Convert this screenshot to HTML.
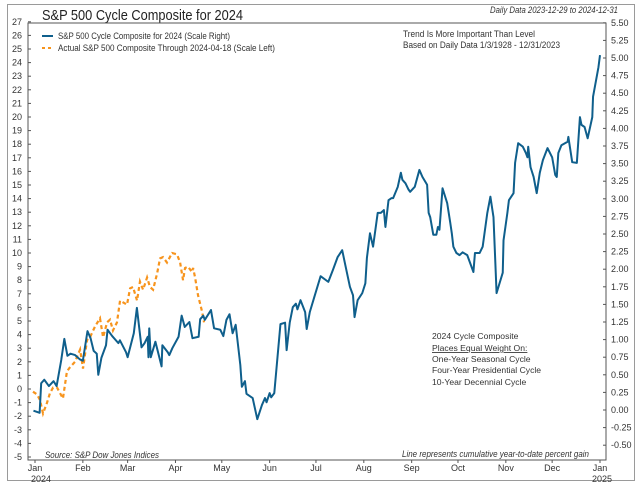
<!DOCTYPE html>
<html><head><meta charset="utf-8"><style>
body{margin:0;background:#fff;width:640px;height:489px;overflow:hidden;font-family:"Liberation Sans",sans-serif}
svg text{font-family:"Liberation Sans",sans-serif}
</style></head><body>
<svg id="chart" width="640" height="489" viewBox="0 0 640 489" xmlns="http://www.w3.org/2000/svg">
<rect x="7.5" y="4.5" width="627" height="476" fill="#fff" stroke="#9a9a9a" stroke-width="1"/>
<text x="42" y="20" font-size="15" fill="#222" textLength="201" lengthAdjust="spacingAndGlyphs">S&amp;P 500 Cycle Composite for 2024</text>
<text x="490" y="13" font-size="9" font-style="italic" fill="#333" textLength="128" lengthAdjust="spacingAndGlyphs">Daily Data 2023-12-29 to 2024-12-31</text>
<rect x="28" y="23" width="578" height="437" fill="none" stroke="#555" stroke-width="1"/>
<g>
<line x1="42" y1="36" x2="53" y2="36" stroke="#0f5f8c" stroke-width="2"/>
<text x="58" y="39" font-size="9" fill="#333" textLength="172" lengthAdjust="spacingAndGlyphs">S&amp;P 500 Cycle Composite for 2024 (Scale Right)</text>
<line x1="42" y1="48" x2="53" y2="48" stroke="#f7941d" stroke-width="2" stroke-dasharray="3,3"/>
<text x="58" y="51" font-size="9" fill="#333" textLength="217" lengthAdjust="spacingAndGlyphs">Actual S&amp;P 500 Composite Through 2024-04-18 (Scale Left)</text>
</g>
<text x="403" y="37" font-size="9" fill="#333" textLength="132" lengthAdjust="spacingAndGlyphs">Trend Is More Important Than Level</text>
<text x="403" y="48" font-size="9" fill="#333" textLength="157" lengthAdjust="spacingAndGlyphs">Based on Daily Data 1/3/1928 - 12/31/2023</text>
<g font-size="8.6" fill="#333">
<text x="432" y="339">2024 Cycle Composite</text>
<text x="432" y="351" text-decoration="underline">Places Equal Weight On:</text>
<text x="432" y="362">One-Year Seasonal Cycle</text>
<text x="432" y="373">Four-Year Presidential Cycle</text>
<text x="432" y="385">10-Year Decennial Cycle</text>
</g>
<text x="45" y="458" font-size="9" font-style="italic" fill="#333" textLength="114" lengthAdjust="spacingAndGlyphs">Source:   S&amp;P Dow Jones Indices</text>
<text x="402" y="457" font-size="9" font-style="italic" fill="#333" textLength="187" lengthAdjust="spacingAndGlyphs">Line represents cumulative year-to-date percent gain</text>
<g id="axes"></g>
<g id="series"></g>
</svg>
<script>
const blueDays=[-1,3,4,6,9,12,14,17,19,21,23,26,29,31,34,36,38,40,41,43,46,47,50,54,55,59,60,64,66,69,71,73,73.5,74,75,78,82,82.5,86,87,89,93,95,97,100,102,106,107,109,110,114,116,120,122,124,126,128,130,133,134,136,137,141,144,147,149,150,152,153,155,159,162,163,165,167,169,170,172,175,176,178,181,185,190,193,196,199,201,204,206,207,209,212,214,215,217,219,222,224,226,227,229,231,232,235,237,238,240,242,243,246,249,251,254,255,256,258,260,261,262,264,267,269,270,271,273,275,277,280,284,285,288,290,293,295,297,299,303,303.5,306,307,310,311,313,316,318,319,319.5,321,323,325,327,329,332,335,337,338,339,341,345,345.5,348,351,353,354,356,358,361,361.5,365,366];
const blueValues=[-0.01,-0.04,0.38,0.43,0.34,0.41,0.34,0.71,1.01,0.77,0.80,0.78,0.72,0.70,1.12,1.02,0.84,0.80,0.50,0.74,0.92,1.14,1.05,0.95,0.99,0.82,0.75,1.09,1.45,0.89,0.95,1.04,0.75,1.16,0.75,0.97,0.62,0.92,0.82,0.78,0.88,1.04,1.34,1.18,1.25,1.02,1.04,1.29,1.34,1.28,1.42,1.16,1.14,1.05,1.28,1.36,1.09,1.21,0.64,0.33,0.41,0.23,0.17,-0.13,0.07,0.17,0.11,0.24,0.18,0.24,1.22,1.24,0.85,1.24,1.46,1.51,1.43,1.56,1.39,1.15,1.39,1.61,1.90,1.82,1.99,2.17,2.27,2.06,1.75,1.63,1.32,1.56,1.66,1.80,2.16,2.51,2.32,2.80,2.80,2.84,2.60,2.98,3.01,3.01,3.17,3.37,3.27,3.22,3.13,3.10,3.17,3.41,3.31,3.20,2.80,2.74,2.49,2.49,2.60,2.56,3.15,2.94,2.66,2.51,2.32,2.23,2.20,2.24,2.20,1.96,2.23,2.23,2.32,2.80,3.03,2.74,1.66,1.95,2.41,2.80,2.98,3.08,3.51,3.79,3.74,3.65,3.59,3.74,3.45,3.31,3.08,3.37,3.55,3.72,3.59,3.34,3.31,3.65,3.76,3.81,3.88,3.52,3.51,4.16,4.05,4.02,3.86,4.16,4.45,4.87,5.04];
const orangeDays=[-1.3,1.3,3.2,5.2,7.8,9.7,11.7,14.3,16.2,18.1,20.7,22.7,25.9,29.2,31.1,33.7,35.6,38.9,42.1,44.1,46.7,48.6,50.5,53.1,55.1,59.6,61.6,63.5,66.1,68.0,70.0,72.6,74.5,76.5,79.1,81.0,82.9,85.5,88.8,92.0,94.0,95.9,97.2,99.1,101.7,102.4,103.7,105.6,108.2,109.5];
const orangeValues=[-0.2,-0.4,-0.8,-1.8,-1.0,-0.3,0.1,0.1,-0.3,-0.7,1.3,1.6,2.0,2.9,1.5,3.6,3.8,4.6,5.2,3.8,4.9,5.1,4.3,4.9,6.5,6.2,7.4,7.5,6.5,7.9,7.3,8.2,7.5,7.3,8.5,9.6,9.7,9.3,10.0,9.9,9.3,8.0,8.9,9.0,8.6,8.9,8.2,6.9,5.7,4.9];
const leftTicks=[27,26,25,24,23,22,21,20,19,18,17,16,15,14,13,12,11,10,9,8,7,6,5,4,3,2,1,0,-1,-2,-3,-4,-5];
const rightTicks=[5.5,5.25,5,4.75,4.5,4.25,4,3.75,3.5,3.25,3,2.75,2.5,2.25,2,1.75,1.5,1.25,1,0.75,0.5,0.25,0,-0.25,-0.5];
const monthLabels=["Jan","Feb","Mar","Apr","May","Jun","Jul","Aug","Sep","Oct","Nov","Dec","Jan"];
const monthDays=[0,31,60,91,121,152,182,213,244,274,305,335,366];

const NS="http://www.w3.org/2000/svg";
const xS=d=>35+d*565/366;
const yL=v=>389-v*13.6;
const yR=v=>410-v*70.4;
function mk(tag,attrs,parent){const e=document.createElementNS(NS,tag);for(const k in attrs)e.setAttribute(k,attrs[k]);parent.appendChild(e);return e;}
const axes=document.getElementById('axes'),series=document.getElementById('series');
leftTicks.forEach(v=>{
  const t=mk('text',{x:22,y:yL(v)+3,'font-size':9,fill:'#333','text-anchor':'end'},axes);
  t.textContent=v;
  
  
  mk('line',{x1:28,x2:31,y1:yL(v),y2:yL(v),stroke:'#555'},axes);
});
rightTicks.forEach(v=>{
  const t=mk('text',{x:611,y:yR(v)+3,'font-size':9,fill:'#333'},axes);
  t.textContent=v.toFixed(2);
  
  
  mk('line',{x1:603,x2:606,y1:yR(v),y2:yR(v),stroke:'#555'},axes);
});
monthLabels.forEach((m,i)=>{
  const x=xS(monthDays[i]);
  mk('line',{x1:x,x2:x,y1:460,y2:463,stroke:'#555'},axes);
  const t=mk('text',{x:x,y:471,'font-size':9,fill:'#333','text-anchor':'middle'},axes);
  t.textContent=m;
  
  
});
const y1=mk('text',{x:xS(0)+6,y:482,'font-size':9,fill:'#333','text-anchor':'middle'},axes);y1.textContent='2024';


const y2=mk('text',{x:xS(366)+2,y:482,'font-size':9,fill:'#333','text-anchor':'middle'},axes);y2.textContent='2025';



const ob=mk('polyline',{points:orangeDays.map((d,i)=>xS(d)+','+yL(orangeValues[i])).join(' '),fill:'none',stroke:'#f7941d','stroke-width':2.2,'stroke-dasharray':'4,3'},series);


const bl=mk('polyline',{points:blueDays.map((d,i)=>xS(d)+','+yR(blueValues[i])).join(' '),fill:'none',stroke:'#0f5f8c','stroke-width':2,'stroke-linejoin':'round'},series);


</script>
</body></html>
